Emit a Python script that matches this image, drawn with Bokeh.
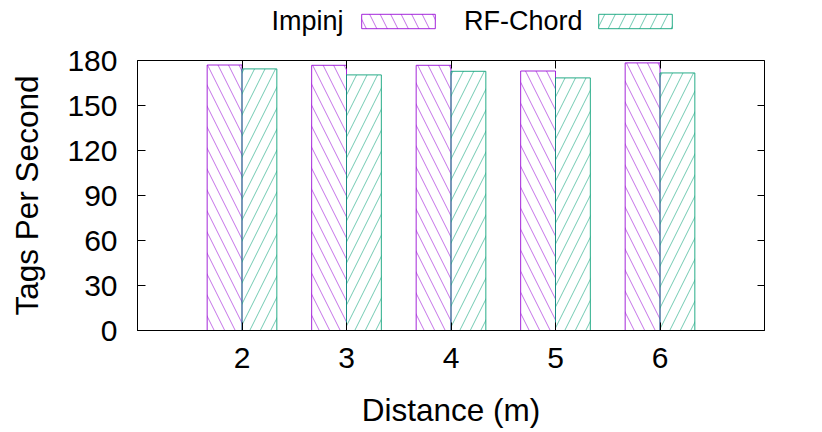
from bokeh.plotting import figure
from bokeh.layouts import column
from bokeh.models import (Range1d, FixedTicker, LinearAxis, Legend, LegendItem,
                          Label, ColumnDataSource, CustomJSTickFormatter)
from bokeh.transform import dodge
from bokeh.embed import file_html
from bokeh.resources import INLINE

# ---- data ----
distances = [2, 3, 4, 5, 6]
distance_labels = ["2", "3", "4", "5", "6"]
impinj = [177.0, 176.8, 176.8, 173.0, 178.4]
rf_chord = [174.4, 170.4, 172.8, 168.4, 171.7]
y_ticks = [0, 30, 60, 90, 120, 150, 180]
series_names = ["Impinj", "RF-Chord"]

FONT = "Liberation Sans"
PURPLE = "#9400d3"
TEAL = "#009e73"

styles = [
    dict(hatch_pattern="left_diagonal_line", hatch_color=PURPLE, line_color=PURPLE),
    dict(hatch_pattern="right_diagonal_line", hatch_color=TEAL, line_color=TEAL),
]
common = dict(fill_color="white", fill_alpha=0, hatch_alpha=0.55, hatch_scale=21,
              hatch_weight=1, line_width=1, line_alpha=0.85)

W = 822
LEG_H = 40
MAIN_H = 392
BORDER_L, BORDER_R = 137, 58

# ---- main chart ----
src = ColumnDataSource(dict(x=distances, impinj=impinj, rf=rf_chord))

p = figure(width=W, height=MAIN_H, x_range=Range1d(1, 7), y_range=Range1d(0, 180),
           output_backend="svg", toolbar_location=None,
           min_border_left=BORDER_L, min_border_right=BORDER_R,
           min_border_top=20, min_border_bottom=102)
p.background_fill_color = "white"
p.border_fill_color = "white"
p.grid.visible = False
p.outline_line_color = "black"
p.outline_line_width = 1

bar_w = 1 / 3
r1 = p.vbar(x=dodge("x", -bar_w / 2), top="impinj", width=bar_w, bottom=0, source=src,
            **styles[0], **common)
r2 = p.vbar(x=dodge("x", bar_w / 2), top="rf", width=bar_w, bottom=0, source=src,
            **styles[1], **common)

xb = p.below[0]
xb.ticker = FixedTicker(ticks=distances)
xb.major_label_overrides = {d: l for d, l in zip(distances, distance_labels)}
xb.axis_label = "Distance (m)"

yl = p.left[0]
yl.ticker = FixedTicker(ticks=y_ticks)
yl.axis_label = "Tags Per Second"

for ax in (xb, yl):
    ax.major_tick_in = 8
    ax.major_tick_out = 0
    ax.minor_tick_line_color = None
    ax.axis_line_color = "black"
    ax.major_tick_line_color = "black"
    ax.major_label_text_font = FONT
    ax.major_label_text_font_size = "30px"
    ax.major_label_text_color = "black"
    ax.axis_label_text_font = FONT
    ax.axis_label_text_font_size = "31.5px"
    ax.axis_label_text_font_style = "normal"
    ax.axis_label_text_color = "black"

xb.major_label_standoff = 17
xb.axis_label_standoff = 21
yl.major_label_standoff = 20
yl.axis_label_standoff = 19

blank = CustomJSTickFormatter(code="return ''")
xt = LinearAxis(ticker=FixedTicker(ticks=distances), formatter=blank,
                major_label_text_font_size="1px", major_label_standoff=0,
                major_tick_in=8, major_tick_out=0, minor_tick_line_color=None,
                axis_line_color=None, major_tick_line_color="black")
p.add_layout(xt, "above")
yr = LinearAxis(ticker=FixedTicker(ticks=y_ticks), formatter=blank,
                major_label_text_font_size="1px", major_label_standoff=0,
                major_tick_in=7, major_tick_out=0, minor_tick_line_color=None,
                axis_line_color=None, major_tick_line_color="black")
p.add_layout(yr, "right")

# ---- key strip above the chart (gnuplot style: text, then sample) ----
# data units of this strip are page pixels: x from page left, y up from strip bottom
lf = figure(width=W, height=LEG_H, title=None,
            x_range=Range1d(BORDER_L, W - BORDER_R), y_range=Range1d(0, LEG_H),
            output_backend="svg", toolbar_location=None,
            min_border_left=BORDER_L, min_border_right=BORDER_R,
            min_border_top=0, min_border_bottom=0,
            x_axis_location=None, y_axis_location=None)
lf.outline_line_color = None
lf.grid.visible = False
lf.background_fill_color = "white"
lf.border_fill_color = "white"

# hidden renderers that only lend their style to the key samples
key_renderers = [lf.vbar(x="x", top=col, width=bar_w, source=src, visible=False,
                         **s, **common)
                 for s, col in zip(styles, ["impinj", "rf"])]

G, H = 92.5, 18   # legend glyph box; Bokeh insets area glyphs by 10% -> 74 x 14.4 sample
for rend, box_left, name, text_right in ((key_renderers[0], 361, series_names[0], 343),
                                         (key_renderers[1], 598, series_names[1], 582)):
    lg = Legend(items=[LegendItem(label=" ", renderers=[rend])],
                location=(box_left - 0.1 * G - BORDER_L, LEG_H - (13.5 - 0.1 * H) - H),
                orientation="horizontal",
                glyph_width=int(G), glyph_height=H, label_height=H, label_width=0,
                label_standoff=0, label_text_font_size="1px",
                padding=0, margin=0, spacing=0,
                border_line_color=None, background_fill_alpha=0)
    lf.add_layout(lg)
    lf.add_layout(Label(x=text_right, y=20, text=name,
                        text_align="right", text_baseline="alphabetic",
                        text_font=FONT, text_font_size="27px", text_color="black"))

open("out.html", "w").write(file_html(column(lf, p, spacing=0), INLINE))
